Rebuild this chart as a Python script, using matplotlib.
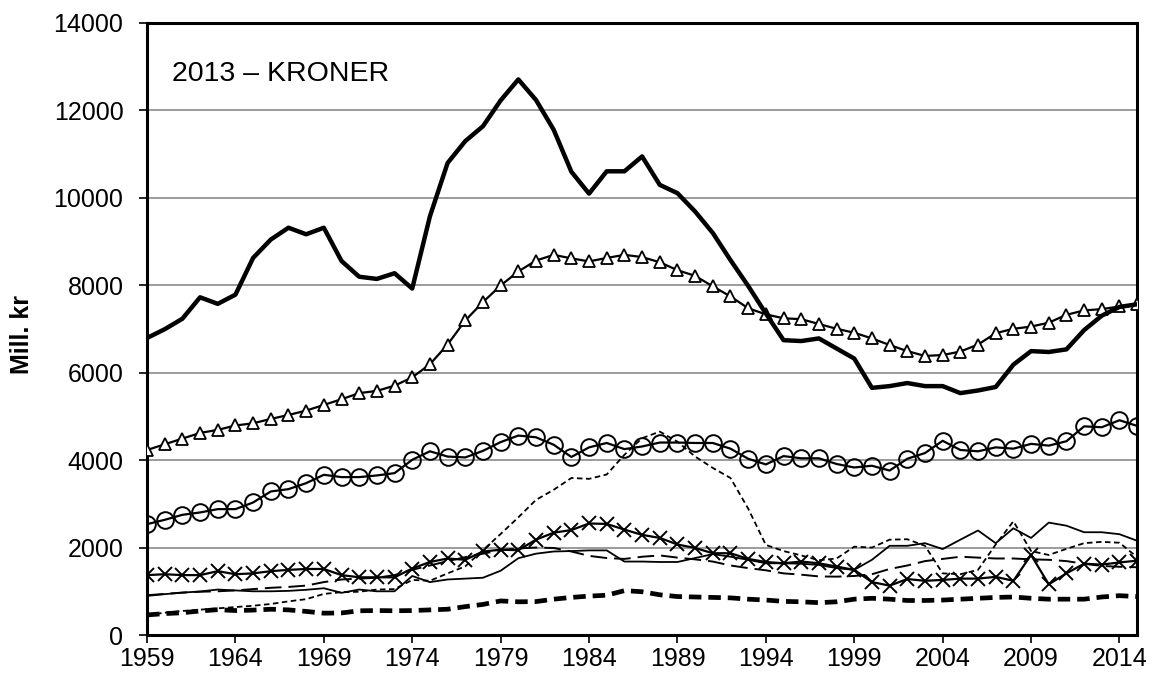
import numpy as np
import matplotlib
matplotlib.use('Agg')
import matplotlib.pyplot as plt

plt.rcParams['font.family'] = ['Liberation Sans', 'DejaVu Sans']
plt.rcParams['lines.scale_dashes'] = False

years = list(range(1959, 2016))

# thick solid line
total = [6800, 7000, 7240, 7730, 7580, 7790, 8630, 9050, 9320, 9170, 9320,
         8560, 8200, 8150, 8280, 7930, 9580, 10800, 11300, 11640, 12230,
         12710, 12240, 11560, 10600, 10100, 10610, 10610, 10950, 10300, 10110,
         9690, 9200, 8580, 7990, 7360, 6750, 6730, 6790, 6560, 6330,
         5660, 5700, 5770, 5700, 5700, 5540, 5600, 5680, 6190, 6500,
         6480, 6540, 6980, 7310, 7510, 7570]

# triangles
tri = [4240, 4370, 4500, 4630, 4700, 4800, 4850, 4950, 5040, 5140, 5270,
       5400, 5540, 5590, 5710, 5900, 6200, 6650, 7200, 7620, 8000,
       8320, 8570, 8700, 8620, 8550, 8630, 8700, 8650, 8530, 8350,
       8220, 7980, 7750, 7480, 7340, 7250, 7230, 7120, 7010, 6920,
       6790, 6640, 6500, 6390, 6410, 6490, 6650, 6910, 7010, 7060,
       7150, 7330, 7430, 7460, 7520, 7570]

# circles
circ = [2545, 2644, 2758, 2812, 2888, 2888, 3040, 3292, 3345, 3482, 3673,
        3620, 3620, 3658, 3711, 4016, 4210, 4090, 4070, 4220, 4420,
        4570, 4530, 4360, 4080, 4300, 4400, 4260, 4320, 4410, 4410,
        4400, 4400, 4270, 4040, 3910, 4100, 4050, 4050, 3920, 3840,
        3880, 3770, 4040, 4170, 4450, 4240, 4210, 4300, 4270, 4380,
        4340, 4440, 4780, 4760, 4920, 4790]

# x markers
cross = [1380, 1400, 1380, 1380, 1470, 1400, 1420, 1470, 1500, 1520, 1520,
         1380, 1330, 1330, 1330, 1530, 1680, 1760, 1730, 1920, 1960,
         1950, 2190, 2350, 2410, 2560, 2550, 2420, 2300, 2230, 2080,
         2000, 1880, 1880, 1750, 1680, 1650, 1690, 1650, 1575, 1500,
         1220, 1140, 1290, 1250, 1270, 1300, 1300, 1340, 1250, 1840,
         1170, 1420, 1640, 1620, 1670, 1710]

# thin solid
thin = [905, 945, 980, 1006, 1050, 1030, 1010, 1010, 1020, 1044, 1080,
        975, 1050, 1010, 1010, 1360, 1220, 1280, 1300, 1320, 1480,
        1766, 1870, 1920, 1930, 1945, 1945, 1690, 1690, 1680, 1680,
        1770, 1860, 1800, 1730, 1650, 1650, 1640, 1612, 1540, 1500,
        1730, 2050, 2050, 2110, 1975, 2190, 2400, 2110, 2450, 2230,
        2580, 2510, 2360, 2360, 2315, 2165]

# short dashed thin
short = [470, 520, 560, 590, 620, 650, 680, 720, 780, 830, 950,
         990, 1000, 1050, 1060, 1270, 1250, 1420, 1580, 1950, 2320,
         2700, 3100, 3330, 3600, 3580, 3680, 4130, 4510, 4660, 4430,
         4090, 3830, 3600, 2900, 2070, 1930, 1830, 1720, 1760, 2030,
         2010, 2190, 2200, 2050, 1420, 1400, 1500, 2080, 2610, 1930,
         1840, 1980, 2110, 2140, 2120, 1790]

# long dashed
longd = [920, 950, 980, 1000, 1010, 1030, 1060, 1090, 1110, 1140, 1220,
         1280, 1300, 1320, 1380, 1500, 1600, 1700, 1790, 1870, 1950,
         1990, 2010, 2000, 1920, 1820, 1770, 1750, 1800, 1830, 1780,
         1740, 1690, 1600, 1540, 1490, 1420, 1390, 1350, 1345, 1360,
         1400, 1520, 1600, 1700, 1750, 1800, 1780, 1760, 1760, 1740,
         1730, 1700, 1640, 1590, 1570, 1560]

# thick dashed
thick = [470, 500, 520, 560, 590, 570, 580, 600, 585, 550, 510,
         515, 565, 570, 565, 570, 585, 600, 660, 710, 790,
         770, 775, 830, 870, 900, 920, 1025, 1000, 930, 890,
         880, 870, 860, 830, 810, 780, 770, 750, 770, 830,
         850, 830, 800, 800, 810, 830, 850, 870, 880, 850,
         830, 830, 830, 880, 910, 890]

fig = plt.figure(figsize=(11.54, 6.82), dpi=100)
ax = fig.add_axes([0.1274, 0.0682, 0.858, 0.8981])

ax.plot(years, thick, color='black', lw=3.4, dashes=[9, 5], zorder=3)
ax.plot(years, longd, color='black', lw=1.4, dashes=[12, 5], zorder=3)
ax.plot(years, short, color='black', lw=1.3, dashes=[4, 2.5], zorder=3)
ax.plot(years, thin, color='black', lw=1.3, zorder=3)
ax.plot(years, cross, color='black', lw=1.6, marker='x', ms=10, mew=1.4, zorder=4)
ax.plot(years, circ, color='black', lw=1.6, marker='o', ms=12, mfc='none',
        mew=1.4, zorder=4)
ax.plot(years, tri, color='black', lw=1.6, marker='^', ms=8, mfc='white',
        mew=1.3, zorder=4)
ax.plot(years, total, color='black', lw=3.2, zorder=5)

ax.set_xlim(1959, 2015)
ax.set_ylim(0, 14000)
ax.set_xticks(range(1959, 2015, 5))
ax.set_yticks(range(0, 14001, 2000))
ax.tick_params(labelsize=18, direction='out', length=6, width=1.2)
ax.tick_params(axis='y', pad=11)
ax.tick_params(axis='x', pad=2)
ax.yaxis.grid(True, color='#808080', lw=1.1)
ax.set_axisbelow(True)
for s in ax.spines.values():
    s.set_linewidth(2.2)
    s.set_color('black')

fig.text(22 / 1154, 0.51, 'Mill. kr', rotation=90, ha='center', va='center',
         fontsize=18, fontweight='bold')
ax.text(0.025, 0.905, '2013 – KRONER', transform=ax.transAxes, fontsize=20.5)

fig.savefig('out.png', dpi=100)
